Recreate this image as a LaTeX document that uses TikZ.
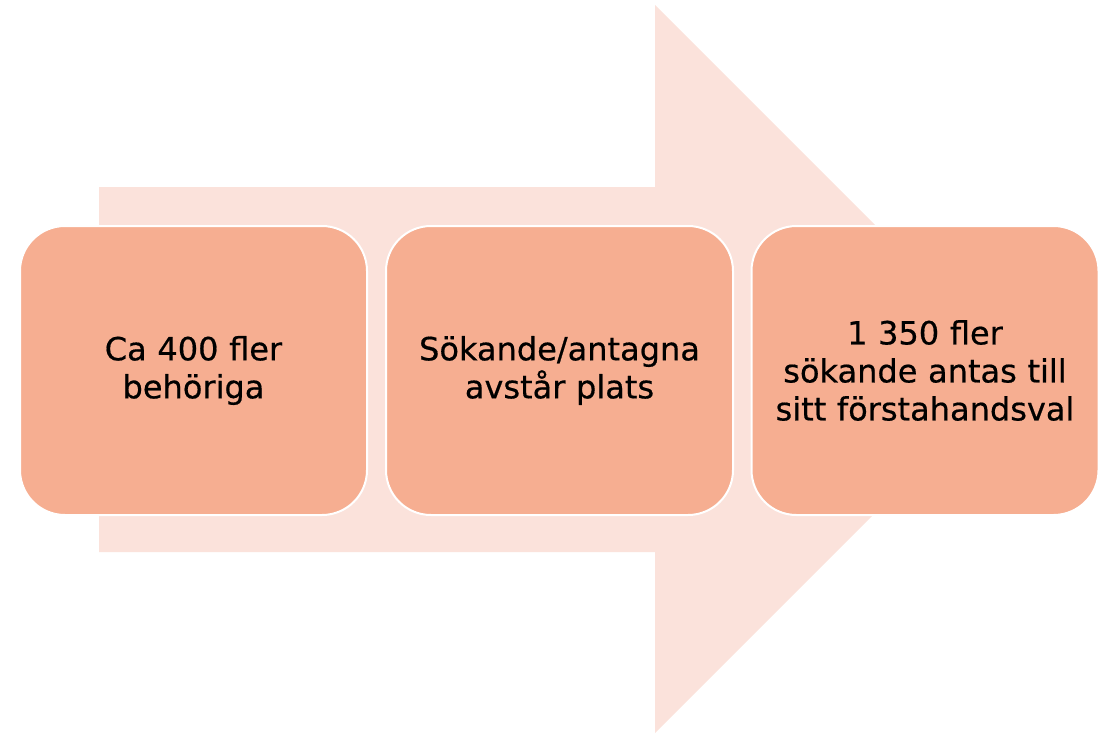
\documentclass[tikz,border=0pt]{standalone}
\usepackage{fontspec}
\setmainfont{DejaVu Sans}
\newfontfamily\medfont{DejaVu Sans}[FakeBold=0.5]
\definecolor{arrowfill}{HTML}{FBE2DB}
\definecolor{boxfill}{HTML}{F6AE91}
\begin{document}
\begin{tikzpicture}[x=1pt,y=-1pt,
  stepbox/.style={rectangle, rounded corners=45pt, fill=boxfill, draw=white, line width=2pt,
    minimum width=347pt, minimum height=289pt, inner sep=0pt, align=center,
    text width=330pt, font=\medfont\fontsize{32}{38}\selectfont, text=black}]
\useasboundingbox (0,0) rectangle (1102,734);
\fill[arrowfill] (99,187) -- (655,187) -- (655,5) -- (1019,369) -- (655,733) -- (655,552) -- (99,552) -- cycle;
\node[stepbox] (b1) at (193.5,370.5) {Ca 400 fler\\behöriga};
\node[stepbox] (b2) at (559.5,370.5) {Sökande/antagna\\avstår plats};
\node[stepbox] (b3) at (925,370.5) {1 350 fler\\sökande antas till\\sitt förstahandsval};
\end{tikzpicture}
\end{document}
